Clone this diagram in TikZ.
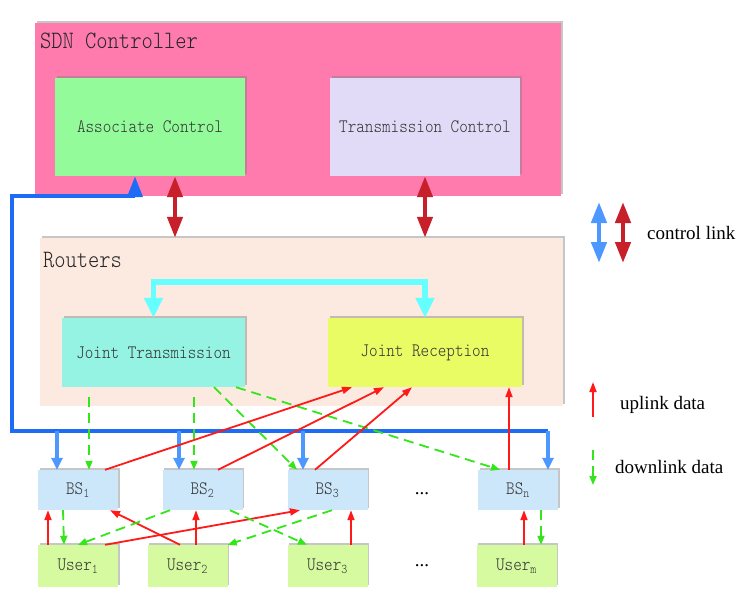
\documentclass[tikz,border=0pt]{standalone}
\usepackage{fontspec}
\setmainfont{Liberation Serif}
\newfontfamily\boxfont[FakeStretch=0.86]{lmmonolt10-regular.otf}
\usepackage{xcolor}
\usetikzlibrary{arrows.meta,calc,positioning,shadows}
\definecolor{sdnpink}{RGB}{255,123,174}
\definecolor{assocgreen}{RGB}{147,251,154}
\definecolor{translav}{RGB}{225,219,247}
\definecolor{routpeach}{RGB}{252,233,224}
\definecolor{jtcyan}{RGB}{148,243,226}
\definecolor{jryellow}{RGB}{233,252,99}
\definecolor{bsblue}{RGB}{205,231,250}
\definecolor{usergreen}{RGB}{213,250,159}
\definecolor{busblue}{RGB}{30,108,245}
\definecolor{lightblue}{RGB}{77,152,255}
\definecolor{ctrlred}{RGB}{200,32,42}
\definecolor{linkcyan}{RGB}{102,255,255}
\definecolor{upred}{RGB}{255,26,26}
\definecolor{downgreen}{RGB}{51,230,26}
\tikzset{
  plane/.style={rectangle, inner sep=0pt,
    drop shadow={shadow xshift=1.5pt, shadow yshift=2pt, opacity=.45, fill=gray}},
  planetitle/.style={inner sep=0pt, anchor=north west, text=black!85,
    font=\boxfont\fontsize{25}{25}\selectfont},
  unitbox/.style={rectangle, inner sep=0pt, text=black!80,
    font=\boxfont\fontsize{19}{19}\selectfont,
    drop shadow={shadow xshift=1.5pt, shadow yshift=2pt, opacity=.45, fill=gray}},
  ctrl/.style={line width=4.5pt, draw=ctrlred,
    {Triangle[width=15pt,length=21pt]}-{Triangle[width=15pt,length=21pt]}},
  ctrlblue/.style={line width=4.5pt, draw=lightblue,
    {Triangle[width=15pt,length=21pt]}-{Triangle[width=15pt,length=21pt]}},
  bus/.style={line width=4pt, draw=busblue},
  busdrop/.style={line width=4.5pt, draw=lightblue, -{Triangle[width=11pt,length=12pt]}},
  jlink/.style={line width=5.5pt, draw=linkcyan,
    {Triangle[width=18pt,length=20pt]}-{Triangle[width=18pt,length=20pt]}},
  uplink/.style={line width=1.8pt, draw=upred, -{Triangle[width=7pt,length=10pt]}},
  downlink/.style={line width=1.8pt, draw=downgreen, dash pattern=on 10pt off 6pt,
    -{Triangle[width=7pt,length=9pt]}},
  legendtxt/.style={inner sep=0pt, anchor=west, font=\fontsize{19}{19}\selectfont},
  every picture/.style={line join=miter}
}

\begin{document}
\begin{tikzpicture}[x=1pt,y=-1pt]
  \useasboundingbox (0,0) rectangle (748,603);

  % SDN controller
  \node[plane, fill=sdnpink, minimum width=526pt, minimum height=173pt] (sdn) at (298,109.5) {};
  \node[planetitle] (sdnt) at ([xshift=5pt,yshift=-10pt]sdn.north west) {SDN Controller};
  \node[unitbox, fill=assocgreen, minimum width=190pt, minimum height=98pt] (assoc) at (150,127) {Associate Control};
  \node[unitbox, fill=translav, minimum width=190pt, minimum height=98pt] (trans) at (425,127) {Transmission Control};

  % Routers
  \node[plane, fill=routpeach, minimum width=523pt, minimum height=168pt] (rout) at (301.5,322) {};
  \node[planetitle] (routt) at ([xshift=3pt,yshift=-14pt]rout.north west) {Routers};
  \node[unitbox, fill=jtcyan, minimum width=183pt, minimum height=69pt] (jt) at (153.5,352.5) {Joint Transmission};
  \node[unitbox, fill=jryellow, minimum width=194pt, minimum height=69pt] (jr) at (425,352.5) {Joint Reception};

  % base stations
  \node[unitbox, fill=bsblue, minimum width=80pt, minimum height=40pt] (bs1) at (78,490) {BS\textsubscript{1}};
  \node[unitbox, fill=bsblue, minimum width=80pt, minimum height=40pt] (bs2) at (202.5,490) {BS\textsubscript{2}};
  \node[unitbox, fill=bsblue, minimum width=80pt, minimum height=40pt] (bs3) at (327.5,490) {BS\textsubscript{3}};
  \node[unitbox, fill=bsblue, minimum width=80pt, minimum height=40pt] (bsn) at (518,490) {BS\textsubscript{n}};
  \node[legendtxt, anchor=center] (bsdots) at (422,494) {...};

  % users
  \node[unitbox, fill=usergreen, minimum width=80pt, minimum height=42pt] (u1) at (78,566) {User\textsubscript{1}};
  \node[unitbox, fill=usergreen, minimum width=80pt, minimum height=42pt] (u2) at (187.5,566) {User\textsubscript{2}};
  \node[unitbox, fill=usergreen, minimum width=80pt, minimum height=42pt] (u3) at (327.5,566) {User\textsubscript{3}};
  \node[unitbox, fill=usergreen, minimum width=80pt, minimum height=42pt] (um) at (516.5,566) {User\textsubscript{m}};
  \node[legendtxt, anchor=center] (udots) at (422,566) {...};

  % control links
  \draw[ctrl] ([xshift=25pt]assoc.south) -- ([xshift=25pt]assoc.south |- rout.north);
  \draw[ctrl] (trans.south) -- (trans.south |- rout.north);
  \draw[jlink] (jt.north) |- ([yshift=36pt]jr.north) -- (jr.north);

  \coordinate (bend) at (12,196);
  \coordinate (busl) at (12,431);
  \coordinate (busr) at (548,431);
  \draw[bus, {Triangle[width=15pt,length=21pt]}-] ([xshift=-15pt]assoc.south) |- (bend) -- (busl) -- (busr);
  \draw[busdrop] ([xshift=-21pt]bs1.north |- busl) -- ([xshift=-21pt]bs1.north);
  \draw[busdrop] ([xshift=-23.5pt]bs2.north |- busl) -- ([xshift=-23.5pt]bs2.north);
  \draw[busdrop] ([xshift=-24.5pt]bs3.north |- busl) -- ([xshift=-24.5pt]bs3.north);
  \draw[busdrop] (busr) -- (busr |- bsn.north);

  % downlink from joint transmission
  \draw[downlink, shorten <=10pt] ([xshift=11pt]bs1.north |- jt.south) -- ([xshift=11pt]bs1.north);
  \draw[downlink, shorten <=10pt] ([xshift=-8.5pt]bs2.north |- jt.south) -- ([xshift=-8.5pt]bs2.north);
  \draw[downlink] ([xshift=60.5pt]jt.south) -- ([xshift=-30.5pt]bs3.north);
  \draw[downlink] ([xshift=82.5pt]jt.south) -- ([xshift=-18pt]bsn.north);

  % uplink to joint reception
  \draw[uplink] ([xshift=27pt]bs1.north) -- ([xshift=-73pt]jr.south);
  \draw[uplink] ([xshift=15.5pt]bs2.north) -- ([xshift=-41pt]jr.south);
  \draw[uplink] ([xshift=-12.5pt]bs3.north) -- ([xshift=-13pt]jr.south);
  \draw[uplink] ([xshift=-9pt]bsn.north) -- ([xshift=-9pt]bsn.north |- jr.south);

  % base stations and users
  \draw[uplink] ([xshift=-30pt]u1.north) -- ([xshift=-30pt]bs1.south);
  \draw[downlink] ([xshift=-15pt]bs1.south) -- ([xshift=-14pt]u1.north);
  \draw[uplink] ([xshift=-7.5pt]u2.north) -- ([xshift=32pt]bs1.south);
  \draw[downlink] ([xshift=-32.5pt]bs2.south) -- (u1.north);
  \draw[uplink] ([xshift=27pt]u1.north) -- ([xshift=-27.5pt]bs3.south);
  \draw[uplink] ([xshift=8.5pt]u2.north) -- ([xshift=-6.5pt]bs2.south);
  \draw[downlink] ([xshift=27.5pt]bs2.south) -- ([xshift=-20.5pt]u3.north);
  \draw[downlink] ([xshift=4.5pt]bs3.south) -- (u2.north east);
  \draw[uplink] ([xshift=23.5pt]u3.north) -- ([xshift=23.5pt]bs3.south);
  \draw[uplink] ([xshift=7.5pt]um.north) -- ([xshift=6pt]bsn.south);
  \draw[downlink] ([xshift=23pt]bsn.south) -- ([xshift=24.5pt]um.north);

  % legend
  \coordinate (lb1) at (599,202);
  \coordinate (lb2) at (599,263);
  \coordinate (lr1) at (623,202);
  \coordinate (lr2) at (623,263);
  \draw[ctrlblue] (lb1) -- (lb2);
  \draw[ctrl] (lr1) -- (lr2);
  \node[legendtxt] (ctrltxt) at (647,233) {control link};
  \coordinate (lu1) at (593,417);
  \coordinate (lu2) at (593,382);
  \draw[uplink] (lu1) -- (lu2);
  \node[legendtxt] (uptxt) at (620,405) {uplink data};
  \coordinate (ld1) at (593,450);
  \coordinate (ld2) at (593,485);
  \draw[downlink] (ld1) -- (ld2);
  \node[legendtxt] (downtxt) at (615,467) {downlink data};
\end{tikzpicture}
\end{document}
